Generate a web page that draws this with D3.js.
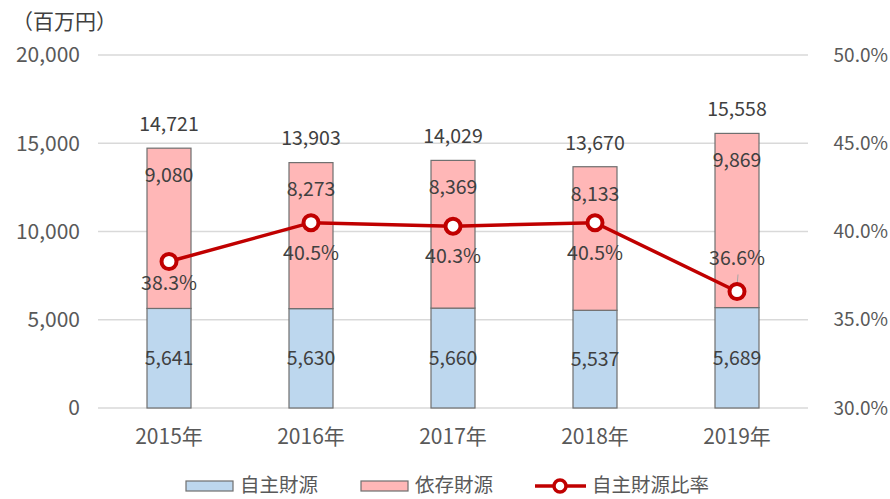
<!DOCTYPE html>
<html>
<head>
<meta charset="utf-8">
<script src="https://cdn.jsdelivr.net/npm/d3@7"></script>
<style>
    body { margin: 0; background: #fff; }
    text { font-family: "Noto Sans CJK JP", "Noto Sans", sans-serif; }
</style>
</head>
<body>
<div id="chart"></div>
<script>
// chart data
const years = ["2015年", "2016年", "2017年", "2018年", "2019年"];
const ownRevenue = [5641, 5630, 5660, 5537, 5689];        // 自主財源
const dependRevenue = [9080, 8273, 8369, 8133, 9869];     // 依存財源
const totals = [14721, 13903, 14029, 13670, 15558];
const ownRatio = [38.3, 40.5, 40.3, 40.5, 36.6];          // 自主財源比率 (%)
const leftTicks = [0, 5000, 10000, 15000, 20000];
const rightTicks = [30, 35, 40, 45, 50];

// size of the diagram
const W = 890, H = 499;
const plotLeft = 98, plotRight = 808, plotTop = 55, plotBottom = 408;

// offset of the ratio labels from their points (px)
const pctOffset = [22, 30, 30, 30, -33];

const svg = d3.select("#chart").append("svg")
    .attr("width", W)
    .attr("height", H);

const x = d3.scaleBand().domain(years).range([plotLeft, plotRight]);
const y = d3.scaleLinear().domain([0, 20000]).range([plotBottom, plotTop]);
const y2 = d3.scaleLinear().domain([30, 50]).range([plotBottom, plotTop]);
const barW = 44;
const cx = d => x(d) + x.bandwidth() / 2;

// grid
svg.append("g")
    .selectAll("line")
    .data(leftTicks)
    .join("line")
    .attr("x1", plotLeft).attr("x2", plotRight)
    .attr("y1", d => y(d)).attr("y2", d => y(d))
    .attr("stroke", "#d9d9d9")
    .attr("stroke-width", 1.5);

// left axis labels
svg.append("g")
    .selectAll("text")
    .data(leftTicks)
    .join("text")
    .attr("x", 80)
    .attr("y", d => y(d))
    .attr("dy", "0.35em")
    .attr("text-anchor", "end")
    .attr("fill", "#595959")
    .style("font-size", "21px")
    .text(d => d3.format(",")(d));

// right axis labels
svg.append("g")
    .selectAll("text")
    .data(rightTicks)
    .join("text")
    .attr("x", 888)
    .attr("y", d => y2(d))
    .attr("dy", "0.35em")
    .attr("text-anchor", "end")
    .attr("fill", "#595959")
    .style("font-size", "19px")
    .text(d => d.toFixed(1) + "%");

// unit label
svg.append("text")
    .attr("x", 12)
    .attr("y", 22)
    .attr("dy", "0.35em")
    .attr("fill", "#404040")
    .style("font-size", "21px")
    .text("（百万円）");

// x labels
svg.append("g")
    .selectAll("text")
    .data(years)
    .join("text")
    .attr("x", d => cx(d))
    .attr("y", 437)
    .attr("dy", "0.35em")
    .attr("text-anchor", "middle")
    .attr("fill", "#595959")
    .style("font-size", "21px")
    .text(d => d);

// stacked bars
const bars = svg.append("g");
bars.selectAll(".own")
    .data(years)
    .join("rect")
    .attr("class", "own")
    .attr("x", d => cx(d) - barW / 2)
    .attr("width", barW)
    .attr("y", (d, i) => y(ownRevenue[i]))
    .attr("height", (d, i) => y(0) - y(ownRevenue[i]))
    .attr("fill", "#bdd7ee")
    .attr("stroke", "#6f6f6f")
    .attr("stroke-width", 1.2);

bars.selectAll(".dep")
    .data(years)
    .join("rect")
    .attr("class", "dep")
    .attr("x", d => cx(d) - barW / 2)
    .attr("width", barW)
    .attr("y", (d, i) => y(ownRevenue[i] + dependRevenue[i]))
    .attr("height", (d, i) => y(ownRevenue[i]) - y(ownRevenue[i] + dependRevenue[i]))
    .attr("fill", "#ffb7b7")
    .attr("stroke", "#6f6f6f")
    .attr("stroke-width", 1.2);

// bar labels
const lbl = svg.append("g")
    .attr("fill", "#404040")
    .attr("text-anchor", "middle")
    .style("font-size", "19.5px");

lbl.selectAll(".ownLbl")
    .data(years)
    .join("text")
    .attr("class", "ownLbl")
    .attr("x", d => cx(d))
    .attr("y", (d, i) => (y(0) + y(ownRevenue[i])) / 2)
    .attr("dy", "0.35em")
    .text((d, i) => d3.format(",")(ownRevenue[i]));

lbl.selectAll(".depLbl")
    .data(years)
    .join("text")
    .attr("class", "depLbl")
    .attr("x", d => cx(d))
    .attr("y", (d, i) => y(ownRevenue[i] + dependRevenue[i]) + 27)
    .attr("dy", "0.35em")
    .text((d, i) => d3.format(",")(dependRevenue[i]));

lbl.selectAll(".totLbl")
    .data(years)
    .join("text")
    .attr("class", "totLbl")
    .attr("x", d => cx(d))
    .attr("y", (d, i) => y(totals[i]) - 24)
    .attr("dy", "0.35em")
    .text((d, i) => d3.format(",")(totals[i]));

// leader line for the last ratio label
svg.append("line")
    .attr("x1", cx(years[4]) + 1).attr("x2", cx(years[4]))
    .attr("y1", y2(ownRatio[4]) - 17).attr("y2", y2(ownRatio[4]) - 5)
    .attr("stroke", "#a6a6a6")
    .attr("stroke-width", 1);

// ratio line
const line = d3.line()
    .x((d, i) => cx(years[i]))
    .y(d => y2(d));

svg.append("path")
    .datum(ownRatio)
    .attr("d", line)
    .attr("fill", "none")
    .attr("stroke", "#c00000")
    .attr("stroke-width", 3.5);

svg.append("g")
    .selectAll("circle")
    .data(ownRatio)
    .join("circle")
    .attr("cx", (d, i) => cx(years[i]))
    .attr("cy", d => y2(d))
    .attr("r", 7.5)
    .attr("fill", "#fff")
    .attr("stroke", "#c00000")
    .attr("stroke-width", 4);

// ratio labels
svg.append("g")
    .attr("fill", "#404040")
    .attr("text-anchor", "middle")
    .style("font-size", "19.5px")
    .selectAll("text")
    .data(ownRatio)
    .join("text")
    .attr("x", (d, i) => cx(years[i]))
    .attr("y", (d, i) => y2(d) + pctOffset[i])
    .attr("dy", "0.35em")
    .text(d => d.toFixed(1) + "%");

// legend
const lg = svg.append("g")
    .style("font-size", "19.5px")
    .attr("fill", "#595959");
const ly = 485;

lg.append("rect").attr("x", 186).attr("y", ly - 4).attr("width", 47).attr("height", 10)
    .attr("fill", "#bdd7ee").attr("stroke", "#6f6f6f").attr("stroke-width", 1.2);
lg.append("text").attr("x", 240).attr("y", ly).attr("dy", "0.35em").text("自主財源");

lg.append("rect").attr("x", 361).attr("y", ly - 4).attr("width", 47).attr("height", 10)
    .attr("fill", "#ffb7b7").attr("stroke", "#6f6f6f").attr("stroke-width", 1.2);
lg.append("text").attr("x", 415).attr("y", ly).attr("dy", "0.35em").text("依存財源");

lg.append("line").attr("x1", 535).attr("x2", 586).attr("y1", ly + 1).attr("y2", ly + 1)
    .attr("stroke", "#c00000").attr("stroke-width", 3.5);
lg.append("circle").attr("cx", 560).attr("cy", ly + 1).attr("r", 6)
    .attr("fill", "#fff").attr("stroke", "#c00000").attr("stroke-width", 3.5);
lg.append("text").attr("x", 592).attr("y", ly).attr("dy", "0.35em").text("自主財源比率");
</script>
</body>
</html>
